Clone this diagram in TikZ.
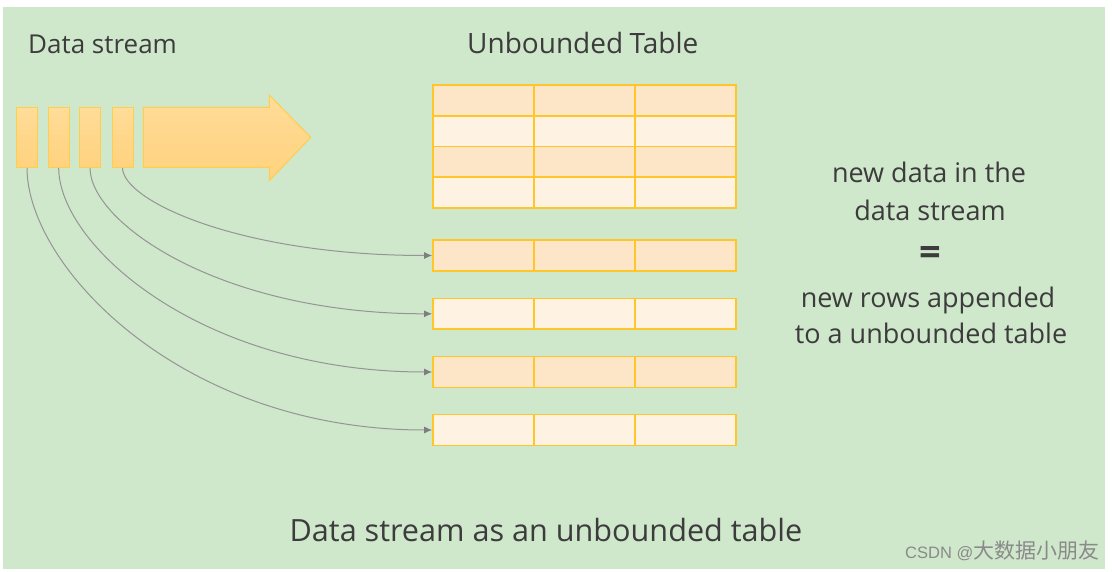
\documentclass[tikz,border=0pt]{standalone}
\usepackage{fontspec}
\setmainfont{Open Sans}
\newfontfamily\cjkfont{Noto Sans CJK SC}
\newfontfamily\wmfont{Liberation Sans}
\usetikzlibrary{arrows.meta}
\definecolor{bggreen}{HTML}{CFE7CB}
\definecolor{boxtop}{HTML}{FFDC98}
\definecolor{boxbot}{HTML}{FFD27E}
\definecolor{boxline}{HTML}{FFCE4A}
\definecolor{celldark}{HTML}{FDE6C8}
\definecolor{celllight}{HTML}{FEF2E3}
\definecolor{cellline}{HTML}{FFC62A}
\definecolor{txt}{HTML}{3C3C3C}
\definecolor{connline}{HTML}{959595}
\definecolor{conntip}{HTML}{7E7E7E}
\definecolor{wm}{HTML}{8A8A8A}
\begin{document}
\begin{tikzpicture}[x=1pt,y=-1pt,
  sbox/.style={draw=boxline, line width=1pt, top color=boxtop, bottom color=boxbot,
    minimum width=21pt, minimum height=60pt, inner sep=0pt},
  cell/.style={draw=cellline, line width=1.5pt, minimum width=101pt, minimum height=30.7pt, inner sep=0pt},
  dcell/.style={cell, fill=celldark},
  lcell/.style={cell, fill=celllight},
  lbl/.style={text=txt, inner sep=0pt, font=\fontsize{27}{32}\selectfont},
  conn/.style={draw=connline, line width=1pt, -{Latex[length=8pt,width=7pt,fill=conntip,color=conntip]}}
]
\useasboundingbox (0,0) rectangle (1112,572);
\fill[white] (0,0) rectangle (1112,572);
\fill[bggreen] (3,7) rectangle (1105,569);

% labels
\node[lbl, anchor=base west, font=\fontsize{26}{31}\selectfont] (lds) at (28,54) {Data stream};
\node[lbl, anchor=base west, font=\fontsize{28}{32}\selectfont] (lut) at (467,54) {Unbounded\hspace{-1pt} Table};

% small stream boxes
\node[sbox] (s1) at (27,137.3) {};
\node[sbox] (s2) at (58.7,137.3) {};
\node[sbox] (s3) at (90,137.3) {};
\node[sbox] (s4) at (122.5,137.3) {};

% big arrow
\path[draw=boxline, line width=1pt, top color=boxtop, bottom color=boxbot]
  (143.3,107.3) -- (269.3,107.3) -- (269.3,95) -- (310.7,137.3) -- (269.3,180.7)
  -- (269.3,167.3) -- (143.3,167.3) -- cycle;

% unbounded table
\foreach \r/\y/\s in {1/100.35/dcell, 2/131.2/lcell, 3/162/dcell, 4/192.5/lcell}{
  \node[\s] (t\r a) at (483.35,\y) {};
  \node[\s] (t\r b) at (584.5,\y) {};
  \node[\s] (t\r c) at (685.5,\y) {};
}

% new rows
\foreach \r/\y/\s in {1/255.5/dcell, 2/313.8/lcell, 3/372/dcell, 4/430/lcell}{
  \node[\s] (r\r a) at (483.35,\y) {};
  \node[\s] (r\r b) at (584.5,\y) {};
  \node[\s] (r\r c) at (685.5,\y) {};
}

% connectors
\draw[conn] (s4.south) .. controls +(0,33) and +(-192,0) .. (r1a.west);
\draw[conn] (s3.south) .. controls +(0,55) and +(-212,0) .. (r2a.west);
\draw[conn] (s2.south) .. controls +(0,77) and +(-232,0) .. (r3a.west);
\draw[conn] (s1.south) .. controls +(0,98.5) and +(-251,0) .. (r4a.west);

% right text
\node[lbl, anchor=base] (e1) at (929,183) {new data in the};
\node[lbl, anchor=base] (e2) at (930,220.7) {data stream};
\node[lbl, anchor=center, font=\fontsize{38}{40}\selectfont\bfseries] (eq) at (930.5,256) {=};
\node[lbl, anchor=base] (e3) at (928,308) {new rows appended};
\node[lbl, anchor=base] (e4) at (931,344) {to a unbounded table};

% title
\node[lbl, anchor=base, font=\fontsize{30.6}{36}\selectfont] (title) at (546,541) {Data stream as an unbounded table};

% watermark
\node[anchor=base west, inner sep=0pt, text=wm] (wmk) at (905,558)
  {\wmfont\fontsize{16.5}{18}\selectfont CSDN @\cjkfont\fontsize{21}{22}\selectfont 大数据小朋友};
\end{tikzpicture}
\end{document}
